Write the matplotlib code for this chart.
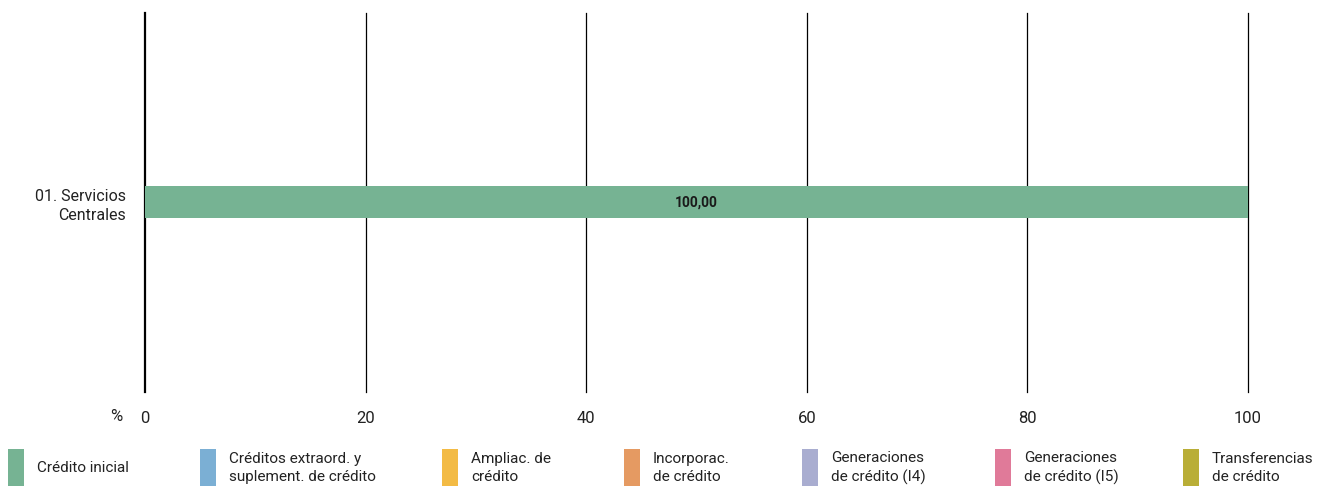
import matplotlib.pyplot as plt
from matplotlib.patches import Rectangle

plt.rcParams['font.family'] = ['Roboto', 'DejaVu Sans']

categories = ["01. Servicios\nCentrales"]
series_names = [
    "Crédito inicial",
    "Créditos extraord. y\nsuplement. de crédito",
    "Ampliac. de\ncrédito",
    "Incorporac.\nde crédito",
    "Generaciones\nde crédito (I4)",
    "Generaciones\nde crédito (I5)",
    "Transferencias\nde crédito",
]
series_values = [[100.0], [0.0], [0.0], [0.0], [0.0], [0.0], [0.0]]
colors = ["#76b393", "#7bafd4", "#f3bb45", "#e59a62", "#a9add0", "#e07a99", "#b9ae37"]
xticks = [0, 20, 40, 60, 80, 100]

fig = plt.figure(figsize=(13.18, 4.86), dpi=100)
ax = fig.add_axes([0.110, 0.1934, 0.8369, 0.7799])

left = [0.0] * len(categories)
for name, vals, c in zip(series_names, series_values, colors):
    ax.barh(range(len(categories)), vals, left=left, height=0.0844, color=c, zorder=3)
    for i, v in enumerate(vals):
        if v > 0:
            ax.text(left[i] + v / 2, i, f"{v:.2f}".replace(".", ","), ha="center", va="center",
                    fontsize=10, fontweight="bold", color="#1a1a1a", zorder=4)
    left = [l + v for l, v in zip(left, vals)]

ax.set_xlim(0, 100)
ax.set_ylim(-0.5, 0.5)
ax.invert_yaxis()
ax.set_yticks(range(len(categories)))
ax.set_yticklabels(categories, fontsize=11.5, color="#222222", linespacing=1.35)
ax.set_xticks(xticks)
ax.set_xticklabels([str(t) for t in xticks], fontsize=12, color="#222222")
ax.tick_params(length=0, pad=14)
ax.tick_params(axis="y", pad=14)
for s in ["top", "right", "bottom", "left"]:
    ax.spines[s].set_visible(False)
# vertical gridlines, the zero line a little heavier
for t in xticks:
    ax.axvline(t, color="black", linewidth=1.6 if t == 0 else 0.9, zorder=1, clip_on=False)
fig.text(110 / 1318, 1 - 416 / 486, "%", fontsize=12, color="#222222", ha="left", va="center")

# legend along the bottom
leg_x = [8, 200, 442, 624, 802, 995, 1183]
for x, name, c in zip(leg_x, series_names, colors):
    fig.add_artist(Rectangle((x / 1318, 0), 16 / 1318, 37 / 486, transform=fig.transFigure,
                             color=c, lw=0))
    fig.text((x + 29) / 1318, 1 - 468 / 486, name, fontsize=11, color="#222222",
             ha="left", va="center", linespacing=1.35)

fig.savefig("out.png", dpi=100)
